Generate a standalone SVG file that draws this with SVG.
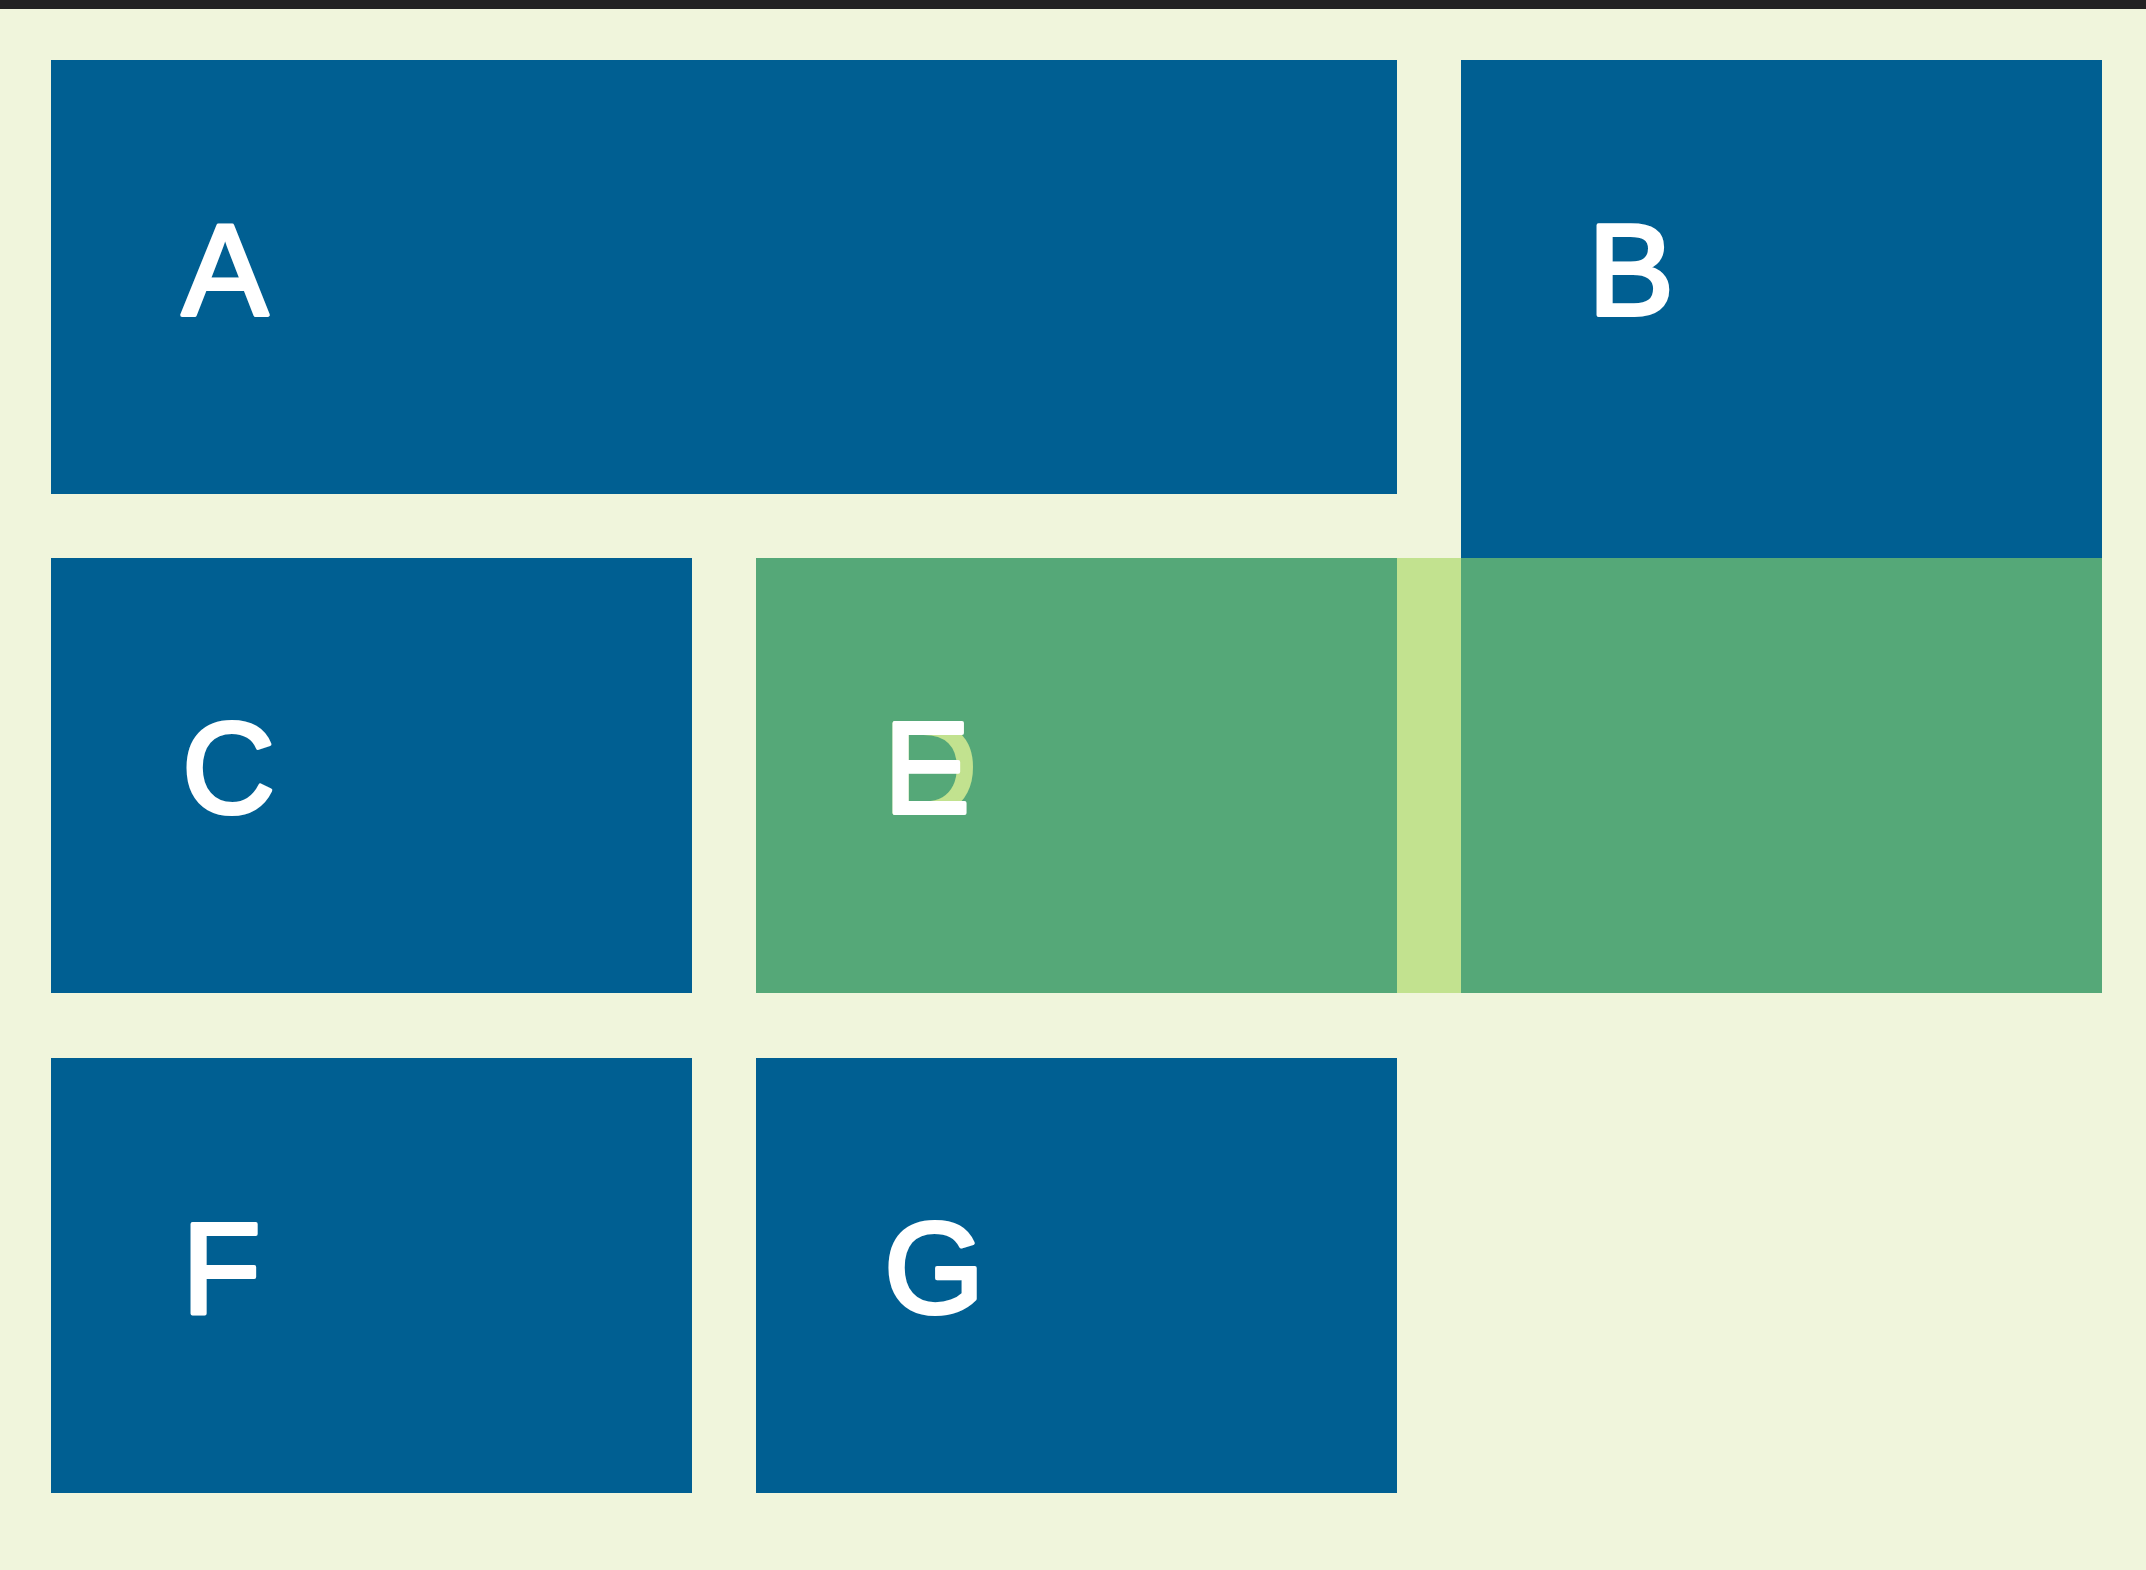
<svg xmlns="http://www.w3.org/2000/svg" width="2146" height="1570" viewBox="0 0 2146 1570">
  <style>
    .box { fill: #005f92; }
    .green { fill: #55a878; }
    .lt { fill: #c2e28f; }
    .lbl { font-family: "Liberation Sans", Arial, sans-serif; font-size: 129px; fill: #ffffff; stroke: #ffffff; stroke-width: 4; stroke-linejoin: round; }
    .lbl-d { font-family: "Liberation Sans", Arial, sans-serif; font-size: 129px; fill: #c2e28f; stroke: #c2e28f; stroke-width: 4; stroke-linejoin: round; }
  </style>
  <rect x="0" y="0" width="2146" height="1570" fill="#f0f5dc"/>
  <rect x="0" y="0" width="2146" height="9" fill="#222222"/>
  <g id="node-A">
    <rect class="box" x="51" y="60" width="1346" height="434"/>
    <text class="lbl" x="182" y="315">A</text>
  </g>
  <g id="node-B">
    <rect class="box" x="1461" y="60" width="641" height="498"/>
    <text class="lbl" x="1588" y="315">B</text>
  </g>
  <g id="node-C">
    <rect class="box" x="51" y="558" width="641" height="435"/>
    <text class="lbl" x="182" y="813">C</text>
  </g>
  <g id="node-E">
    <rect class="green" x="756" y="558" width="641" height="435"/>
    <rect class="green" x="1461" y="558" width="641" height="435"/>
  </g>
  <g id="node-D">
    <rect class="lt" x="1397" y="558" width="64" height="435"/>
    <text class="lbl-d" x="884" y="813">D</text>
  </g>
  <g id="node-E-label">
    <text class="lbl" x="884" y="813">E</text>
  </g>
  <g id="node-F">
    <rect class="box" x="51" y="1058" width="641" height="435"/>
    <text class="lbl" x="182" y="1313">F</text>
  </g>
  <g id="node-G">
    <rect class="box" x="756" y="1058" width="641" height="435"/>
    <text class="lbl" x="884" y="1313">G</text>
  </g>
  <g id="connectors"/>
</svg>
